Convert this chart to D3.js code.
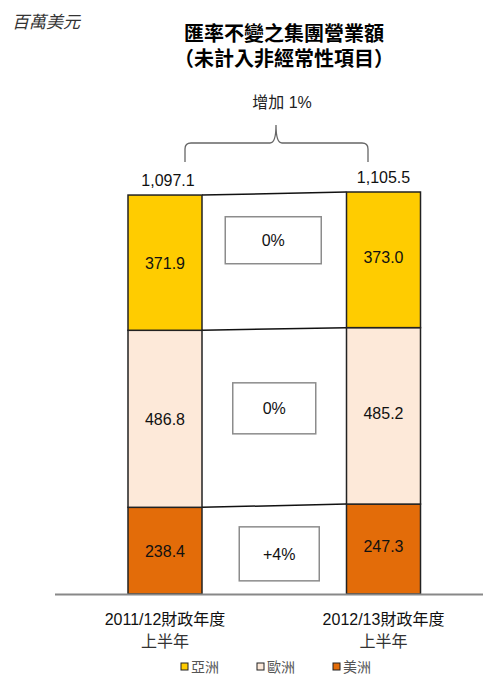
<!DOCTYPE html>
<html><head><meta charset="utf-8">
<script src="https://cdn.jsdelivr.net/npm/d3@7/dist/d3.min.js"></script>
<style>body{margin:0;background:#fff}svg{display:block}</style>
</head><body><svg id="c" width="483" height="677"></svg>
<script>
const periods = ["2011/12財政年度", "2012/13財政年度"];
const periodSub = ["上半年", "上半年"];
const regions = ["亞洲", "歐洲", "美洲"];
const asia = [371.9, 373.0];
const europe = [486.8, 485.2];
const americas = [238.4, 247.3];
const totalLabels = ["1,097.1", "1,105.5"];
const changeLabels = ["0%", "0%", "+4%"];
const growthLabel = "增加 1%";
const unitLabel = "百萬美元";
const titleLines = ["匯率不變之集團營業額", "（未計入非經常性項目）"];
const colors = ["#FFCC00", "#FDE9D9", "#E36C09"];

const svg = d3.select("#c");
const font = "'Liberation Sans','Noto Sans CJK TC',Arial,sans-serif";
const cjk = "'Noto Sans CJK TC','Liberation Sans',sans-serif";

const series = [asia, europe, americas];
const order = [2, 1, 0];
const table = periods.map((p, i) => {
  const o = {period: p};
  regions.forEach((r, k) => o[r] = series[k][i]);
  return o;
});
const stacked = d3.stack().keys(order.map(k => regions[k]))(table);

const y = d3.scaleLinear().domain([0, 1105.5]).range([594, 192]);
const x = d3.scalePoint().domain(periods).range([165, 383.5]);
const bw = 74;

svg.append("text").attr("x", 12).attr("y", 28).attr("font-family", cjk)
  .attr("font-size", 17).attr("font-style", "italic").attr("fill", "#333").text(unitLabel);
const title = svg.append("text").attr("text-anchor", "middle").attr("font-family", cjk)
  .attr("font-weight", "bold").attr("font-size", 20).attr("fill", "#000");
titleLines.forEach((t, i) => title.append("tspan").attr("x", 284).attr("y", 41 + i * 25).text(t));

const boundaries = stacked.map(s => s.map(d => d[1]));
boundaries.forEach(b => {
  svg.append("line")
    .attr("x1", x(periods[0]) + bw / 2).attr("y1", y(b[0]))
    .attr("x2", x(periods[1]) - bw / 2).attr("y2", y(b[1]))
    .attr("stroke", "#111").attr("stroke-width", 1.5);
});

stacked.forEach((s, si) => {
  const k = order[si];
  svg.append("g").selectAll("rect").data(s).join("rect")
    .attr("x", d => x(d.data.period) - bw / 2)
    .attr("y", d => y(d[1]))
    .attr("width", bw)
    .attr("height", d => y(d[0]) - y(d[1]))
    .attr("fill", colors[k]).attr("stroke", "#222").attr("stroke-width", 1.5);
  svg.append("g").selectAll("text").data(s).join("text")
    .attr("x", d => x(d.data.period))
    .attr("y", (d, i) => (y(d[0]) + y(d[1])) / 2 + 6 + (i === 1 ? -3 : 0))
    .attr("text-anchor", "middle").attr("font-family", font).attr("font-size", 16)
    .attr("fill", "#111").text(d => series[k][periods.indexOf(d.data.period)].toFixed(1));
});

const boxW = [96, 83, 80], boxH = [47, 51, 54], boxDy = [-21, -9, 4], boxDx = [-1, 0, 5];
const gapMid = (x(periods[0]) + x(periods[1])) / 2;
order.forEach((k, si) => {
  const s = stacked[si];
  const mid = (y(s[0][0]) + y(s[0][1]) + y(s[1][0]) + y(s[1][1])) / 4 + boxDy[k];
  const cx = gapMid + boxDx[k];
  svg.append("rect").attr("x", cx - boxW[k] / 2).attr("y", mid - boxH[k] / 2)
    .attr("width", boxW[k]).attr("height", boxH[k]).attr("fill", "#fff")
    .attr("stroke", "#8c8c8c").attr("stroke-width", 1.5);
  svg.append("text").attr("x", cx).attr("y", mid + 6).attr("text-anchor", "middle")
    .attr("font-family", font).attr("font-size", 16).attr("fill", "#111").text(changeLabels[k]);
});

svg.append("line").attr("x1", 55).attr("x2", 483).attr("y1", y(0) + 0.5).attr("y2", y(0) + 0.5)
  .attr("stroke", "#888").attr("stroke-width", 2);

periods.forEach((p, i) => {
  svg.append("text").attr("x", x(p) + (i ? 0 : 3)).attr("y", y(stacked[2][i][1]) - 9)
    .attr("text-anchor", "middle").attr("font-family", font).attr("font-size", 16)
    .attr("fill", "#111").text(totalLabels[i]);
});

const bl = 185, br = 368, bm = 276, by = 143, bb = 162, bt = 125;
svg.append("path")
  .attr("d", `M${bl},${bb} L${bl},${by + 6} Q${bl},${by} ${bl + 6},${by} L${bm - 6},${by} Q${bm},${by} ${bm},${bt}` +
    ` Q${bm},${by} ${bm + 6},${by} L${br - 6},${by} Q${br},${by} ${br},${by + 6} L${br},${bb}`)
  .attr("fill", "none").attr("stroke", "#666").attr("stroke-width", 1.3);
svg.append("text").attr("x", 282).attr("y", 108).attr("text-anchor", "middle")
  .attr("font-family", font).attr("font-size", 16).attr("fill", "#222").text(growthLabel);

periods.forEach((p, i) => {
  svg.append("text").attr("x", x(p)).attr("y", 625).attr("text-anchor", "middle")
    .attr("font-family", font).attr("font-size", 16).attr("fill", "#111").text(p);
  svg.append("text").attr("x", x(p)).attr("y", 647).attr("text-anchor", "middle")
    .attr("font-family", font).attr("font-size", 16).attr("fill", "#333").text(periodSub[i]);
});

const lx = d3.scalePoint().domain(regions).range([181, 333]);
regions.forEach((r, k) => {
  svg.append("rect").attr("x", lx(r)).attr("y", 663).attr("width", 7).attr("height", 7)
    .attr("fill", colors[k]).attr("stroke", "#222").attr("stroke-width", 1);
  svg.append("text").attr("x", lx(r) + 10).attr("y", 672).attr("font-family", cjk)
    .attr("font-size", 14).attr("fill", "#555").text(r);
});
</script></body></html>
